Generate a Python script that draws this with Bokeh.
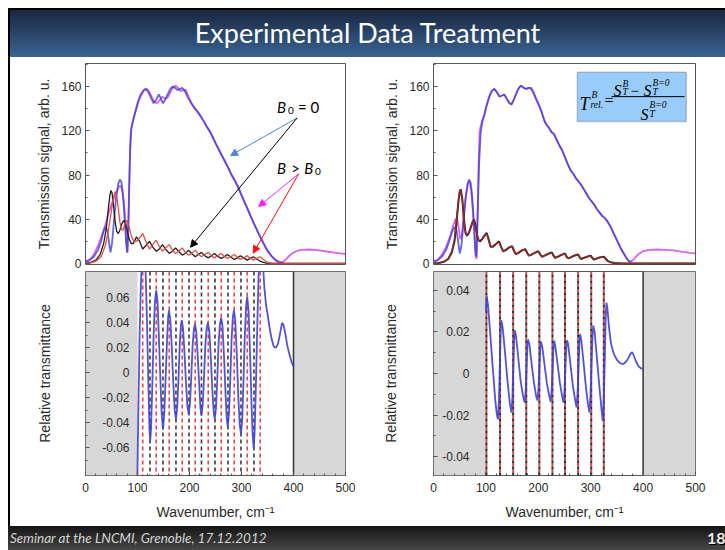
from bokeh.plotting import figure
from bokeh.models import (Range1d, LinearAxis, FixedTicker, PrintfTickFormatter, BoxAnnotation,
                          Span, Arrow, NormalHead, Label, Div)
from bokeh.layouts import column, row
from bokeh.embed import file_html
from bokeh.resources import INLINE

# ---------------- data ----------------
TITLE = "Experimental Data Treatment"
FOOTER = "Seminar at the LNCMI, Grenoble, 17.12.2012"
PAGE_NO = "18"

# left panel, top: transmission signals
WN_S0_L = [0, 8, 16, 24, 30, 34, 38, 42, 45, 48,
           51, 55, 59, 63, 66, 69, 72, 75, 78, 80,
           82, 84, 86, 88, 91, 95, 100, 105, 110, 115,
           120, 125, 131, 136, 141, 145, 149, 153, 158, 163,
           167, 172, 177, 182, 186, 191, 196, 202, 208, 215,
           221, 227, 233, 239, 245, 251, 257, 263, 269, 275,
           281, 287, 293, 299, 305, 311, 317, 323, 329, 335,
           341, 347, 353, 359, 365, 370, 375, 379]
S0_L = [2, 3, 6, 12, 20, 28, 33, 30, 20, 10,
        18, 40, 60, 72, 76, 74, 62, 42, 20, 10,
        30, 70, 105, 122, 128, 136, 145, 152, 156, 158,
        156, 151, 145, 148, 153, 149, 145, 148, 153, 158,
        160, 159, 157, 158, 159, 156, 151, 146, 142, 138,
        134, 129, 124, 120, 114, 108, 102, 97, 92, 86,
        80, 75, 70, 63, 56, 50, 43, 37, 31, 25,
        19, 14, 9.5, 6, 3, 1.5, 0.8, 0.6]

WN_SB_L = [0, 8, 16, 24, 32, 40, 46, 51, 56, 61,
           65, 68, 71, 74, 77, 79, 81, 83, 85, 87,
           90, 94, 98, 103, 108, 113, 118, 123, 128, 133,
           138, 143, 148, 153, 158, 163, 168, 173, 178, 183,
           188, 193, 198, 204, 210, 215, 221, 227, 233, 239,
           245, 251, 257, 263, 269, 275, 281, 287, 293, 299,
           305, 311, 317, 323, 329, 335, 341, 347, 353, 359,
           365, 370, 375, 379, 384, 390, 397, 405, 415, 430,
           445, 460, 475, 490, 500]
SB_L = [1, 3, 8, 16, 26, 38, 48, 55, 60, 66,
        70, 70, 65, 55, 35, 18, 10, 40, 90, 118,
        127, 134, 140, 148, 153, 157, 158, 155, 150, 146,
        145, 148, 151, 149, 150, 155, 159, 161, 159, 156,
        157, 157, 151, 145, 140, 137, 133, 129, 124, 119,
        114, 108, 103, 97, 91, 86, 80, 75, 69, 63,
        57, 50, 44, 37, 31, 25, 20, 14, 9.5, 6,
        3.5, 2, 1, 1, 3, 6, 9, 11, 12.3, 12.6,
        12, 11, 10, 9, 8.5]

WN_K_L = [0, 10, 20, 28, 35, 40, 44, 47, 49, 51,
          54, 57, 60, 63, 66, 70, 74, 77, 80, 84,
          88, 92, 98, 104, 110, 116, 123, 129, 136, 142,
          148, 154, 161, 167, 173, 179, 186, 192, 198, 204,
          211, 217, 223, 229, 236, 242, 248, 254, 261, 267,
          273, 279, 286, 292, 298, 304, 311, 317, 323, 329,
          336, 342, 348, 360, 500]
K_L = [0, 1, 3, 8, 18, 32, 50, 62, 66, 64,
       52, 38, 29, 27, 30, 36, 39, 37, 30, 22,
       18, 18, 24, 20, 13, 16, 20, 15, 11, 13,
       17, 13, 9, 11, 14, 11, 7.5, 9, 12, 9,
       6, 8, 10, 7, 5, 7, 9, 6.5, 4.5, 6,
       8, 6, 3.5, 5, 7, 5, 3, 4.5, 6, 4,
       2, 1, 0.3, 0, 0]

WN_R_L = [0, 10, 20, 30, 38, 44, 49, 53, 57, 60,
          63, 66, 69, 72, 76, 80, 84, 88, 93, 98,
          104, 110, 116, 123, 129, 136, 142, 148, 154, 161,
          167, 173, 179, 186, 192, 198, 204, 211, 217, 223,
          229, 236, 242, 248, 254, 261, 267, 273, 279, 286,
          292, 298, 304, 311, 317, 323, 329, 336, 342, 348,
          354, 360, 500]
R_L = [0, 0.5, 2, 6, 16, 30, 45, 58, 65, 62,
       50, 38, 31, 30, 36, 39, 33, 25, 20, 20,
       23, 27, 20, 13, 17, 21, 15, 11, 14, 17,
       12, 9, 11, 14, 10, 7.5, 9, 12, 8.5, 6,
       8, 10, 7, 5, 7, 9, 6.5, 4.5, 6, 8,
       5.5, 3.5, 5, 7, 4.5, 3, 4.5, 6, 3.5, 1.5,
       0.5, 0, 0]

# right panel, top: transmission signals
WN_S0_R = [0, 8, 16, 24, 30, 35, 40, 44, 47, 50,
           53, 57, 61, 65, 68, 71, 74, 77, 80, 82,
           84, 87, 90, 93, 97, 101, 106, 111, 116, 121,
           126, 131, 135, 140, 145, 149, 154, 159, 163, 167,
           172, 177, 182, 186, 191, 196, 201, 206, 211, 215,
           220, 225, 230, 235, 240, 246, 251, 256, 262, 267,
           272, 277, 282, 287, 292, 297, 302, 307, 312, 317,
           322, 327, 332, 337, 342, 347, 352, 357, 363, 368,
           373, 377]
S0_R = [2, 3, 6, 12, 20, 28, 33, 30, 20, 9,
        15, 35, 58, 72, 76, 73, 60, 38, 12, 6,
        40, 90, 118, 128, 134, 142, 150, 156, 158, 155,
        151, 152, 153, 149, 145, 144, 149, 155, 159, 161,
        159, 158, 159, 159, 155, 149, 144, 138, 130, 126,
        123, 119, 117, 112, 107, 102, 96, 90, 84, 81,
        77, 74, 71, 67, 63, 59, 56, 53, 49, 46,
        43, 41, 38, 34, 29, 24, 19, 14, 9, 5,
        2, 1.5]

WN_SB_R = [0, 8, 16, 24, 32, 38, 42, 45, 48, 51,
           54, 58, 62, 66, 69, 72, 75, 78, 80, 82,
           84, 86, 88, 92, 97, 101, 106, 111, 116, 121,
           126, 131, 135, 140, 145, 149, 154, 159, 163, 167,
           172, 177, 182, 186, 191, 196, 201, 206, 211, 215,
           220, 225, 230, 235, 240, 246, 251, 256, 262, 267,
           272, 277, 282, 287, 292, 297, 302, 307, 312, 317,
           322, 327, 332, 337, 342, 347, 352, 357, 363, 368,
           373, 377, 382, 390, 400, 412, 426, 442, 458, 475,
           490, 500]
SB_R = [1, 3, 8, 15, 25, 35, 40, 40, 33, 22,
        25, 45, 62, 73, 74, 65, 48, 25, 8, 4,
        40, 90, 120, 128, 135, 143, 151, 156, 158, 155,
        151, 152, 153, 149, 145, 144, 149, 155, 159, 161,
        159, 158, 159, 158, 154, 148, 143, 137, 130, 126,
        123, 119, 117, 112, 107, 102, 96, 90, 84, 81,
        77, 74, 71, 67, 63, 59, 56, 53, 49, 46,
        43, 41, 38, 34, 29, 24, 19, 14, 9, 5,
        2, 1.5, 3.6, 8, 11, 12.3, 12.6, 12.2, 11.7, 10.5,
        9.5, 9]

WN_KR_R = [0, 10, 20, 28, 35, 40, 44, 48, 50, 52,
           55, 58, 61, 64, 68, 72, 75, 77.5, 80, 83,
           86, 89, 93, 97, 101.6, 105, 109, 113, 118, 125,
           129, 133, 138, 143, 150, 154, 157, 162, 168, 175,
           179, 182, 187, 193, 200, 204, 207, 212, 218, 226,
           229, 232, 237, 243, 251, 254, 257, 262, 268, 276,
           279, 282, 287, 293, 300, 303, 306, 311, 317, 325,
           329, 333, 338, 345, 360, 500]
K_R = [0, 0.3, 1.5, 4, 10, 20, 38, 58, 65, 67,
       58, 40, 28, 25, 28, 34, 38, 39.5, 35, 26,
       21, 20, 22, 25, 27.6, 22, 15, 15, 17, 20,
       15, 11, 12, 14, 15.6, 11, 8.5, 9.5, 11.5, 13,
       9.5, 7, 8, 9.5, 11, 8, 6, 7, 8.5, 10,
       7, 5, 6, 7.5, 9, 6, 4.5, 5.5, 7, 8,
       5.5, 4, 5, 6, 7, 5, 3.5, 4.3, 5.3, 6,
       4, 2, 1, 0.3, 0, 0]
R_R = [0, 0.3, 1.5, 4.5, 11, 22, 40, 59, 66, 66,
       57, 39, 28, 25.5, 28.5, 34, 38, 39, 34, 26,
       21, 20.5, 22.5, 25.5, 27, 21, 15, 15.5, 17.5, 19.5,
       14.5, 11, 12.5, 14.5, 15.3, 10.5, 8.5, 10, 12, 12.7,
       9, 7, 8.3, 9.8, 10.7, 7.5, 6, 7.3, 8.8, 9.7,
       6.5, 5, 6.2, 7.8, 8.7, 5.7, 4.5, 5.7, 7.2, 7.7,
       5.2, 4, 5.2, 6.2, 6.7, 4.6, 3.5, 4.5, 5.5, 5.7,
       3.6, 2, 1, 0.3, 0, 0]

# left panel, bottom: relative transmittance
WN_REL_L = [99.6, 100.5, 102, 104, 106.5, 109, 112, 115, 118, 121,
            123, 124.5, 126, 128.5, 131, 133.5, 136, 138.5, 141, 144,
            146.5, 149, 151.5, 154, 157, 159, 160.5, 163, 166, 169,
            171.5, 174, 176.5, 179, 181.5, 183.5, 185, 187.5, 190.5, 193.5,
            196, 198.5, 201, 203.5, 206, 208.5, 210.5, 213, 216, 219,
            221, 223, 225.5, 228, 230.5, 233, 235.5, 238, 241, 244,
            246.5, 248.5, 251, 253.5, 256, 258.5, 261, 263.5, 266.5, 269.5,
            271.5, 273.5, 276, 278.5, 281, 283.5, 285.5, 288, 291, 294,
            296.5, 299, 301.5, 304, 306.5, 309, 311, 313.5, 316.5, 319.5,
            321.5, 323.5, 325.5, 328, 330.5, 333, 336, 339, 341.5, 344,
            347, 350.5, 354, 358, 362, 366, 370, 374, 378, 381,
            384, 388, 392, 396, 400]
REL_L = [-0.09, -0.06, -0.02, 0.03, 0.07, 0.095, 0.105, 0.09, 0.045, -0.01,
         -0.045, -0.054, -0.045, -0.01, 0.03, 0.057, 0.066, 0.057, 0.03, -0.005,
         -0.033, -0.045, -0.033, -0.005, 0.028, 0.045, 0.050, 0.043, 0.02, -0.01,
         -0.03, -0.037, -0.027, -0.003, 0.025, 0.038, 0.042, 0.036, 0.015, -0.01,
         -0.027, -0.033, -0.024, -0.002, 0.022, 0.035, 0.039, 0.033, 0.012, -0.012,
         -0.028, -0.034, -0.025, -0.003, 0.022, 0.036, 0.040, 0.034, 0.012, -0.014,
         -0.031, -0.037, -0.028, -0.004, 0.024, 0.039, 0.044, 0.037, 0.012, -0.018,
         -0.036, -0.043, -0.032, -0.004, 0.028, 0.045, 0.050, 0.042, 0.014, -0.02,
         -0.041, -0.049, -0.036, -0.004, 0.032, 0.054, 0.061, 0.05, 0.015, -0.028,
         -0.05, -0.060, -0.045, -0.005, 0.04, 0.08, 0.105, 0.1, 0.085, 0.068,
         0.055, 0.046, 0.036, 0.027, 0.021, 0.02, 0.023, 0.031, 0.040, 0.038,
         0.032, 0.022, 0.015, 0.009, 0.005]
RED_LINES_L = [110, 136, 161, 186, 211, 236, 261, 286, 311, 336]
BLACK_LINES_L = [124, 149, 174, 199, 223, 249, 274, 299, 324]

# right panel, bottom: relative transmittance
WN_REL_R = [100.3, 101.5, 104, 108, 113, 118, 121, 123, 125, 127,
            128.5, 129.5, 132, 136.5, 141, 145.5, 148.7, 150.5, 152.5, 154,
            155.2, 157.5, 162, 166.5, 171, 174, 176, 178, 179.3, 180.5,
            183, 187.5, 192, 196, 198.5, 200.5, 202.5, 204, 205, 207.5,
            212, 216.5, 221, 223.6, 225.5, 227.5, 229, 230.3, 232.5, 237,
            241.5, 245.5, 248, 250, 252, 253.5, 254.8, 257, 261.5, 266,
            270.5, 273, 275, 277, 278.5, 279.8, 282, 286.5, 291, 295,
            297.5, 299.5, 301.5, 303.5, 305, 307.5, 312, 316.5, 320.5, 323,
            325, 327, 328.5, 330, 332, 335, 339, 344, 350, 356,
            362, 367, 372, 376, 379, 382, 386, 391, 396, 400]
REL_R = [0.030, 0.037, 0.033, 0.02, 0.003, -0.013, -0.02, -0.022, -0.012, 0.008,
         0.022, 0.0255, 0.022, 0.01, -0.003, -0.014, -0.0188, -0.012, 0.004, 0.017,
         0.0207, 0.018, 0.007, -0.004, -0.011, -0.014, -0.008, 0.005, 0.014, 0.0163,
         0.014, 0.004, -0.005, -0.011, -0.013, -0.007, 0.005, 0.013, 0.0154, 0.013,
         0.004, -0.005, -0.011, -0.0136, -0.008, 0.004, 0.013, 0.0158, 0.013, 0.004,
         -0.005, -0.011, -0.0139, -0.008, 0.004, 0.013, 0.016, 0.014, 0.004, -0.006,
         -0.013, -0.0163, -0.009, 0.004, 0.015, 0.019, 0.016, 0.005, -0.007, -0.015,
         -0.0188, -0.011, 0.004, 0.018, 0.023, 0.02, 0.007, -0.006, -0.017, -0.0228,
         -0.012, 0.008, 0.026, 0.034, 0.031, 0.022, 0.014, 0.0095, 0.0065, 0.005,
         0.0045, 0.0055, 0.0075, 0.0095, 0.0102, 0.0088, 0.006, 0.0035, 0.0025, 0.0022]
LINES_R = [101, 127, 152, 177, 202, 227, 251, 276, 301, 325]

# axes
X_TICKS = [0, 100, 200, 300, 400, 500]
X_MINOR = [20, 40, 60, 80, 120, 140, 160, 180, 220, 240, 260, 280, 320, 340, 360, 380, 420, 440, 460, 480]
Y_TICKS_TOP = [0, 40, 80, 120, 160]
Y_MINOR_TOP = [20, 60, 100, 140, 180]
Y_TICKS_REL_L = [-0.06, -0.04, -0.02, 0, 0.02, 0.04, 0.06]
Y_MINOR_REL_L = [-0.07, -0.05, -0.03, -0.01, 0.01, 0.03, 0.05, 0.07]
Y_TICKS_REL_R = [-0.04, -0.02, 0, 0.02, 0.04]
Y_MINOR_REL_R = [-0.03, -0.01, 0.01, 0.03]
SHADED = [(0, 100), (400, 500)]

# ---------------- styling helpers ----------------
FONT = "Liberation Sans"
TXT = "#2a2a2a"
C_BLUE = "#4040d4"
C_MAG = "#d04ae0"
C_BLACK = "#1e1e1e"
C_RED = "#e2473e"


def make_fig(width, height, yr, mbl, mbr, mbt, mbb):
    p = figure(width=width, height=height, x_range=Range1d(0, 500), y_range=Range1d(*yr),
               x_axis_location=None, y_axis_location=None,
               min_border_left=mbl, min_border_right=mbr, min_border_top=mbt, min_border_bottom=mbb,
               output_backend="svg", toolbar_location=None)
    p.xgrid.visible = False
    p.ygrid.visible = False
    p.outline_line_color = "#555555"
    p.outline_line_width = 1
    p.background_fill_color = "white"
    p.border_fill_color = "white"
    return p


def add_axis(p, side, ticks, minor, fmt=None, title=None,
             standoff=5, title_standoff=5, size="12px"):
    ax = LinearAxis(ticker=FixedTicker(ticks=ticks, minor_ticks=minor))
    ax.axis_line_color = None
    ax.major_tick_in = 4
    ax.major_tick_out = 0
    ax.minor_tick_in = 2
    ax.minor_tick_out = 0
    ax.major_tick_line_color = "#555555"
    ax.minor_tick_line_color = "#555555"
    ax.major_label_text_font = FONT
    ax.major_label_text_font_size = size
    ax.major_label_text_color = TXT
    ax.major_label_standoff = standoff
    if fmt is not None:
        ax.formatter = fmt
    if title:
        ax.axis_label = title
        ax.axis_label_text_font = FONT
        ax.axis_label_text_font_size = "14px"
        ax.axis_label_text_font_style = "normal"
        ax.axis_label_text_color = TXT
        ax.axis_label_standoff = title_standoff
    p.add_layout(ax, side)
    return ax


def top_plot(width, mbl, mbr, series):
    p = make_fig(width, 213, (-1, 181), mbl, mbr, 6, 6)
    add_axis(p, "left", Y_TICKS_TOP, Y_MINOR_TOP, title="Transmission signal, arb. u.",
             standoff=4, title_standoff=6, size="12px")
    for xs, ys, color, width_, alpha in series:
        p.line(xs, ys, line_color=color, line_width=width_, line_alpha=alpha)
    return p


def bottom_plot(width, mbl, mbr, yr, yt, ym, label_standoff, title_standoff):
    p = make_fig(width, 256, yr, mbl, mbr, 1, 51)
    for a, b in SHADED:
        p.add_layout(BoxAnnotation(left=a, right=b, fill_color="#d7d7d7", fill_alpha=1,
                                   line_color=None, level="underlay"))
    p.add_layout(Span(location=SHADED[1][0], dimension="height", line_color="#333333",
                      line_width=1.5, level="underlay"))
    add_axis(p, "left", yt, ym, fmt=PrintfTickFormatter(format="%g"), title="Relative transmittance",
             standoff=label_standoff, title_standoff=title_standoff, size="12px")
    add_axis(p, "below", X_TICKS, X_MINOR, title="Wavenumber, cm\u207b\u00b9", standoff=7,
             title_standoff=9, size="12px")
    return p


# ---------------- left panel ----------------
lt = top_plot(360, 75, 25, [
    (WN_SB_L, SB_L, C_MAG, 1.8, 0.85),
    (WN_S0_L, S0_L, C_BLUE, 1.8, 0.8),
    (WN_K_L, K_L, C_BLACK, 1.3, 1.0),
    (WN_R_L, R_L, C_RED, 1.3, 0.95),
])

ARROWS_L = [  # (x_start, y_start, x_end, y_end, color)
    (407, 131.7, 279, 97.6, "#4f86d6"),
    (407, 131.7, 202, 14.7, "#000000"),
    (410, 81.1, 333, 51.5, "#ff22ff"),
    (410, 81.1, 322.5, 9.3, "#ff1010"),
]
for xs, ys, xe, ye, c in ARROWS_L:
    lt.add_layout(Arrow(x_start=xs, y_start=ys, x_end=xe, y_end=ye, line_color=c, line_width=1,
                        end=NormalHead(size=7, fill_color=c, line_color=c)))

ANNOT_L = [  # (x, y, text, size, style)
    (368.5, 141.3, "B", "15px", "italic"),
    (389.5, 138.0, "0", "10px", "normal"),
    (408.5, 141.3, "= 0", "15px", "normal"),
    (368.5, 86.5, "B", "15px", "italic"),
    (395.5, 86.5, ">", "15px", "normal"),
    (420.5, 86.5, "B", "15px", "italic"),
    (441.5, 83.4, "0", "10px", "normal"),
]
for x, y, t, s, st in ANNOT_L:
    lt.add_layout(Label(x=x, y=y, text=t, text_font="Lato", text_font_size=s, text_font_style=st,
                        text_color="black", text_baseline="alphabetic"))

lb = bottom_plot(360, 75, 25, (-0.082, 0.081), Y_TICKS_REL_L, Y_MINOR_REL_L, -44, 46)
for loc in BLACK_LINES_L:
    lb.add_layout(Span(location=loc, dimension="height", line_color="#3a3a3a", line_width=1.6,
                       line_dash="4 3", level="underlay"))
for loc in RED_LINES_L:
    lb.add_layout(Span(location=loc, dimension="height", line_color="#e04848", line_width=1.6,
                       line_dash="4 3", level="underlay"))
lb.line(WN_REL_L, REL_L, line_color=C_BLUE, line_width=1.8, line_alpha=0.9)

# ---------------- right panel ----------------
rt = top_plot(355, 63, 30, [
    (WN_SB_R, SB_R, C_MAG, 1.8, 0.85),
    (WN_S0_R, S0_R, C_BLUE, 1.8, 0.8),
    (WN_KR_R, K_R, C_BLACK, 2.0, 1.0),
    (WN_KR_R, R_R, "#c0302a", 1.3, 0.8),
])

rt.add_layout(BoxAnnotation(left=274.5, right=482.5, bottom=128.4, top=173,
                            fill_color="#99ccfa", fill_alpha=1, line_color="#3b5478", line_width=1.5))
FORMULA = [  # (x, y, text, size, style)
    (278.6, 144.7, "T", "18px", "italic"),
    (301.5, 152.8, "B", "9.5px", "italic"),
    (299.6, 143.3, "rel.", "9.5px", "italic"),
    (326.5, 147.4, "=", "16px", "normal"),
    (343.5, 156.4, "S", "16px", "italic"),
    (360.7, 162.7, "B", "9.5px", "italic"),
    (360.7, 155.1, "T", "9.5px", "italic"),
    (376.0, 156.4, "\u2212", "15px", "normal"),
    (400.8, 156.4, "S", "16px", "italic"),
    (418.0, 163.2, "B=0", "9.5px", "italic"),
    (418.0, 155.1, "T", "9.5px", "italic"),
    (395.0, 134.7, "S", "16px", "italic"),
    (412.2, 143.3, "B=0", "9.5px", "italic"),
    (412.2, 135.2, "T", "9.5px", "italic"),
]
for x, y, t, s, st in FORMULA:
    rt.add_layout(Label(x=x, y=y, text=t, text_font="Liberation Serif", text_font_size=s,
                        text_font_style=st, text_color="black", text_baseline="alphabetic"))
rt.add_layout(Arrow(x_start=339.7, y_start=151, x_end=479, y_end=151, line_color="black",
                    line_width=1, end=None))

rb = bottom_plot(355, 63, 30, (-0.049, 0.049), Y_TICKS_REL_R, Y_MINOR_REL_R, -36, 40)
for loc in LINES_R:
    rb.add_layout(Span(location=loc, dimension="height", line_color="#e04848", line_width=2,
                       line_dash="3 3", level="underlay"))
    rb.add_layout(Span(location=loc, dimension="height", line_color="#2a2a2a", line_width=2,
                       line_dash="3 3", line_dash_offset=3, level="underlay"))
rb.line(WN_REL_R, REL_R, line_color=C_BLUE, line_width=1.8, line_alpha=0.9)

# ---------------- slide frame ----------------
header = Div(text=(
    '<div style="position:relative;width:725px;height:57px;background:#ffffff;">'
    '<div style="position:absolute;left:8px;top:8px;width:717px;height:49px;background:#000;"></div>'
    '<div style="position:absolute;left:10px;top:10px;width:715px;height:47px;'
    'background:linear-gradient(to bottom,#19273f,#3b6393);display:flex;align-items:center;'
    'justify-content:center;color:#ffffff;font-family:Lato;font-size:27px;">' + TITLE + '</div></div>'),
    width=725, height=57, margin=0)

border = Div(text=('<div style="width:10px;height:469px;'
                   'background:linear-gradient(to right,#fff 0px,#fff 8px,#000 8px,#000 10px);"></div>'),
             width=10, height=469, margin=0)

footer = Div(text=(
    '<div style="position:relative;width:725px;height:24px;background:#ffffff;overflow:hidden;">'
    '<div style="position:absolute;left:8px;top:0;width:717px;height:24px;'
    'background:linear-gradient(to bottom,#151515,#464646);"></div>'
    '<div style="position:absolute;left:10px;top:0;height:24px;line-height:24px;color:#d2d2d2;'
    'font-family:Lato;font-style:italic;font-size:13.5px;white-space:nowrap;">' + FOOTER + '</div>'
    '<div style="position:absolute;left:707px;top:0;height:24px;line-height:24px;color:#eeeeee;'
    'font-family:Lato;font-weight:bold;font-size:16px;text-shadow:1px 1px 0 #000;">' + PAGE_NO + '</div>'
    '</div>'),
    width=725, height=24, margin=0)

layout = column(header, row(border, column(lt, lb), column(rt, rb)), footer)

open("out.html", "w").write(file_html(layout, INLINE))
